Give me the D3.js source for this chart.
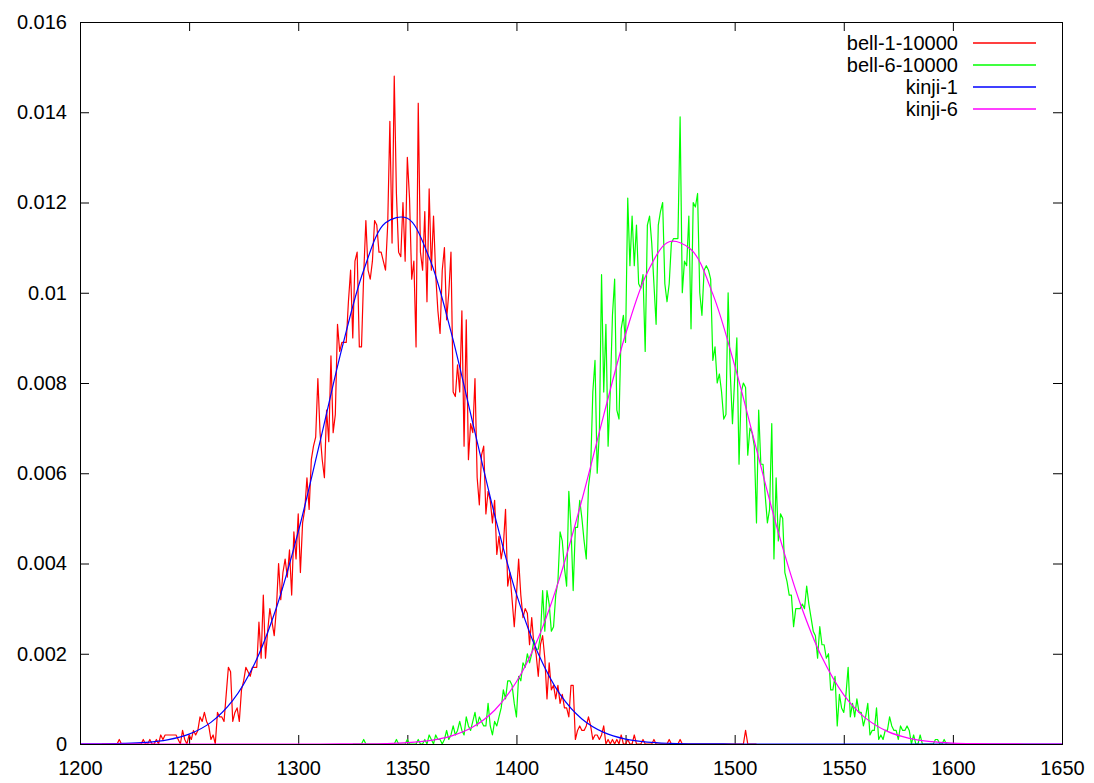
<!DOCTYPE html>
<html>
<head>
<meta charset="utf-8">
<script src="https://cdn.jsdelivr.net/npm/d3@7"></script>
<style>
  body { margin: 0; background: #fff; }
  svg { display: block; }
  text { font-family: "Liberation Sans", Arial, sans-serif; font-size: 20px; fill: #000; }
</style>
</head>
<body>
<svg id="chart" width="1094" height="783"></svg>
<script>
// ---- axis ticks ----
const xTicks = [1200, 1250, 1300, 1350, 1400, 1450, 1500, 1550, 1600, 1650];
const xTickLabels = ["1200", "1250", "1300", "1350", "1400", "1450", "1500", "1550", "1600", "1650"];
const yTicks = [0, 0.002, 0.004, 0.006, 0.008, 0.01, 0.012, 0.014, 0.016];
const yTickLabels = ["0", "0.002", "0.004", "0.006", "0.008", "0.01", "0.012", "0.014", "0.016"];

// ---- series ----
const seriesNames = ["bell-1-10000", "bell-6-10000", "kinji-1", "kinji-6"];
const seriesColors = ["#ff0000", "#00ff00", "#0000ff", "#ff00ff"];

// bell-1-10000: one value per unit bin, starting at 1210
const bell1Start = 1210;
const bell1 = [
  0,0,0,0,0,0,0,0,.0001,0,
  0,0,0,0,0,0,0,0,0,.0001,
  0,0,.0001,0,0,.0001,0,.0002,.0001,.0002,
  .0002,.0002,.0002,.0002,.0002,.0001,0,.0003,.0001,0,
  .0002,.0001,.0003,.0002,.0003,.0006,.0005,.0007,.0005,.0004,
  .0001,.0002,0,.0007,.0006,.0006,.0005,.0011,.0017,.0016,
  .0005,.0007,.0008,.0005,.0012,.0014,.0017,.0016,.0015,.0017,
  .0017,.0017,.0027,.0019,.0033,.0019,.0025,.0030,.0027,.0024,
  .0030,.0040,.0032,.0038,.0041,.0037,.0043,.0033,.0047,.0041,
  .0051,.0038,.0049,.0052,.0059,.0052,.0063,.0066,.0068,.0081,
  .0069,.0063,.0059,.0074,.0067,.0086,.0069,.0073,.0093,.0087,
  .0089,.0089,.0089,.0098,.0105,.0090,.0107,.0109,.0088,.0088,
  .0104,.0116,.0105,.0103,.0107,.0116,.0115,.0109,.0109,.0107,
  .0105,.0115,.0138,.0111,.0148,.0122,.0109,.0108,.0120,.0107,
  .0130,.0121,.0103,.0107,.0088,.0142,.0109,.0105,.0118,.0098,
  .0123,.0105,.0117,.0104,.0096,.0091,.0105,.0110,.0094,.0100,
  .0109,.0078,.0077,.0084,.0078,.0096,.0066,.0094,.0063,.0071,
  .0069,.0081,.0059,.0053,.0064,.0066,.0051,.0056,.0054,.0049,
  .0054,.0042,.0046,.0041,.0044,.0052,.0035,.0038,.0032,.0026,
  .0033,.0041,.0033,.0028,.0030,.0029,.0022,.0028,.0022,.0020,
  .0015,.0022,.0024,.0019,.0010,.0018,.0012,.0013,.0010,.0013,
  .0009,.0011,.0008,.0008,.0006,.0013,.0013,.0001,.0003,.0004,
  .0003,.0003,.0004,.0006,.0004,.0001,.0002,.0002,.0001,.0002,
  .0004,0,.0001,0,.0001,0,.0001,0,.0002,0,
  0,.0001,0,0,.0002,0,0,0,.0001,0,
  0,0,0,.0001,0,0,0,0,0,0,
  .0001,0,0,0,0,.0001,0,0,0,0,
  0,0,0,0,0,0,0,0,0,0,
  0,0,0,0,0,0,0,0,0,0,
  0,0,0,0,0,.0003,0,0,0,0,
  0
];

// bell-6-10000: one value per unit bin, starting at 1325
const bell6Start = 1325;
const bell6 = [
  0,0,0,0,0,
  .0001,0,0,0,0,0,0,0,0,0,
  0,0,0,0,0,.0001,0,0,0,0,
  .0001,0,0,0,0,.0001,0,0,.0001,0,
  .0002,.0001,0,.0002,.0001,.0001,0,.0001,.0003,.0001,
  .0002,.0004,.0002,.0003,.0005,.0003,.0002,.0006,.0004,.0003,
  .0005,.0007,.0004,.0006,.0005,.0004,.0004,.0009,.0004,.0002,
  .0005,.0004,.0006,.0008,.0012,.0010,.0014,.0014,.0013,.0009,
  .0006,.0015,.0014,.0018,.0017,.0020,.0018,.0020,.0023,.0021,
  .0021,.0024,.0034,.0025,.0034,.0031,.0025,.0026,.0033,.0036,
  .0047,.0045,.0039,.0035,.0056,.0048,.0034,.0048,.0048,.0054,
  .0050,.0045,.0041,.0057,.0061,.0078,.0085,.0060,.0069,.0104,
  .0078,.0093,.0066,.0078,.0095,.0103,.0074,.0072,.0092,.0095,
  .0089,.0121,.0106,.0117,.0106,.0115,.0102,.0101,.0104,.0087,
  .0115,.0117,.0111,.0102,.0093,.0115,.0118,.0120,.0102,.0098,
  .0102,.0111,.0112,.0112,.0112,.0139,.0100,.0107,.0106,.0117,
  .0092,.0120,.0119,.0122,.0100,.0095,.0105,.0106,.0105,.0103,
  .0085,.0088,.0080,.0082,.0078,.0072,.0073,.0100,.0082,.0071,
  .0081,.0090,.0062,.0078,.0080,.0079,.0064,.0070,.0069,.0066,
  .0049,.0074,.0062,.0062,.0055,.0049,.0052,.0071,.0041,.0059,
  .0045,.0051,.0050,.0038,.0036,.0033,.0033,.0026,.0030,.0030,
  .0030,.0031,.0030,.0035,.0031,.0028,.0025,.0024,.0019,.0026,
  .0022,.0022,.0019,.0020,.0012,.0012,.0015,.0004,.0011,.0008,
  .0007,.0011,.0017,.0006,.0009,.0006,.0010,.0007,.0007,.0004,
  .0006,.0009,.0002,.0003,.0003,.0008,.0001,.0002,.0001,.0003,
  .0003,.0006,.0004,.0003,.0003,.0001,.0004,.0003,.0003,.0004,
  .0003,0,.0002,0,0,.0002,0,0,0,0,
  0,0,.0001,.0001,0,0,.0001,0,0,0,
  0
];

// kinji-1 / kinji-6 fitted curves, sampled every 10 units from 1200 to 1650
const kinjiX = [1200,1210,1220,1230,1240,1250,1260,1270,1280,1290,
                1300,1310,1320,1330,1340,1350,1360,1370,1380,1390,
                1400,1410,1420,1430,1440,1450,1460,1470,1480,1490,
                1500,1510,1520,1530,1540,1550,1560,1570,1580,1590,
                1600,1610,1620,1630,1640,1650];
const kinji1 = [0.0000012,0.0000039,0.0000122,0.000035,0.000091,0.000218,0.000479,0.000965,0.00178,0.00302,
                0.00470,0.00670,0.00876,0.01050,0.01155,0.01165,0.01078,0.00914,0.00711,0.00508,
                0.00332,0.00200,0.00110,0.000555,0.000257,0.000109,0.0000425,0.0000152,0.000005,0.0000015,
                0,0,0,0,0,0,0,0,0,0,
                0,0,0,0,0,0];
const kinji6 = [0,0,0,0,0,0,0,0,0,0,
                0,0,0.0000012,0.0000037,0.0000108,0.0000296,0.0000745,0.000174,0.000375,0.000748,
                0.00138,0.00235,0.00371,0.00541,0.00729,0.00908,0.01045,0.01113,0.01096,0.00997,
                0.00839,0.00653,0.00469,0.00312,0.00192,0.00109,0.000573,0.000279,0.000125,0.000052,
                0.00002,0.0000071,0.0000023,0.0000007,0.0000002,0];

// ---- layout ----
const svg = d3.select("#chart");
const plot = { left: 80, right: 1062, top: 22, bottom: 744 };
const lineWidth = 1.2;

const x = d3.scaleLinear().domain([1200, 1650]).range([plot.left, plot.right]);
const y = d3.scaleLinear().domain([0, 0.016]).range([plot.bottom, plot.top]);

svg.append("defs").append("clipPath").attr("id", "plotClip")
  .append("rect")
  .attr("x", plot.left).attr("y", plot.top)
  .attr("width", plot.right - plot.left).attr("height", plot.bottom - plot.top);

// ---- axes (ticks point inward, mirrored on top/right like a gnuplot frame) ----
const tickLen = 9;
const styleAxis = g => {
  g.select(".domain").remove();
  g.selectAll(".tick line").attr("stroke", "#000").attr("stroke-width", 1);
  g.selectAll(".tick text").attr("font-size", 20).attr("font-family", '"Liberation Sans", Arial, sans-serif').attr("fill", "#000");
};

svg.append("g")
  .attr("transform", `translate(0,${plot.bottom})`)
  .call(d3.axisBottom(x).tickValues(xTicks).tickFormat((d, i) => xTickLabels[i])
    .tickSizeInner(-tickLen).tickSizeOuter(0).tickPadding(17))
  .call(styleAxis);

svg.append("g")
  .attr("transform", `translate(0,${plot.top})`)
  .call(d3.axisTop(x).tickValues(xTicks).tickFormat("")
    .tickSizeInner(-tickLen).tickSizeOuter(0))
  .call(styleAxis);

svg.append("g")
  .attr("transform", `translate(${plot.left},0)`)
  .call(d3.axisLeft(y).tickValues(yTicks).tickFormat((d, i) => yTickLabels[i])
    .tickSizeInner(-tickLen).tickSizeOuter(0).tickPadding(13))
  .call(styleAxis);

svg.append("g")
  .attr("transform", `translate(${plot.right},0)`)
  .call(d3.axisRight(y).tickValues(yTicks).tickFormat("")
    .tickSizeInner(-tickLen).tickSizeOuter(0))
  .call(styleAxis);

// ---- data lines ----
const toPoints = (start, vals) => vals.map((v, i) => ({ x: start + i, y: v }));
const series = [
  { name: seriesNames[0], color: seriesColors[0], pts: toPoints(bell1Start, bell1), curve: d3.curveLinear },
  { name: seriesNames[1], color: seriesColors[1], pts: toPoints(bell6Start, bell6), curve: d3.curveLinear },
  { name: seriesNames[2], color: seriesColors[2], pts: kinjiX.map((k, i) => ({ x: k, y: kinji1[i] })), curve: d3.curveCatmullRom },
  { name: seriesNames[3], color: seriesColors[3], pts: kinjiX.map((k, i) => ({ x: k, y: kinji6[i] })), curve: d3.curveCatmullRom }
];

const lines = svg.append("g").attr("clip-path", "url(#plotClip)");
series.forEach(s => {
  const line = d3.line().x(d => x(d.x)).y(d => y(d.y)).curve(s.curve);
  lines.append("path")
    .datum(s.pts)
    .attr("fill", "none")
    .attr("stroke", s.color)
    .attr("stroke-width", lineWidth)
    .attr("stroke-linejoin", "round")
    .attr("d", line);
});

// ---- frame ----
svg.append("rect")
  .attr("x", plot.left + 0.5).attr("y", plot.top + 0.5)
  .attr("width", plot.right - plot.left).attr("height", plot.bottom - plot.top)
  .attr("fill", "none").attr("stroke", "#000").attr("stroke-width", 1);

// ---- legend (top right, text right-aligned, sample line to the right) ----
const legend = svg.append("g");
const legendTextX = 958, legendLineX1 = 973, legendLineX2 = 1036, legendY0 = 43, legendStep = 22;
series.forEach((s, i) => {
  const yy = legendY0 + i * legendStep;
  legend.append("text")
    .attr("x", legendTextX).attr("y", yy)
    .attr("dy", "0.35em")
    .attr("text-anchor", "end")
    .text(s.name);
  legend.append("line")
    .attr("x1", legendLineX1).attr("x2", legendLineX2)
    .attr("y1", yy).attr("y2", yy)
    .attr("stroke", s.color).attr("stroke-width", 1.5);
});
</script>
</body>
</html>
